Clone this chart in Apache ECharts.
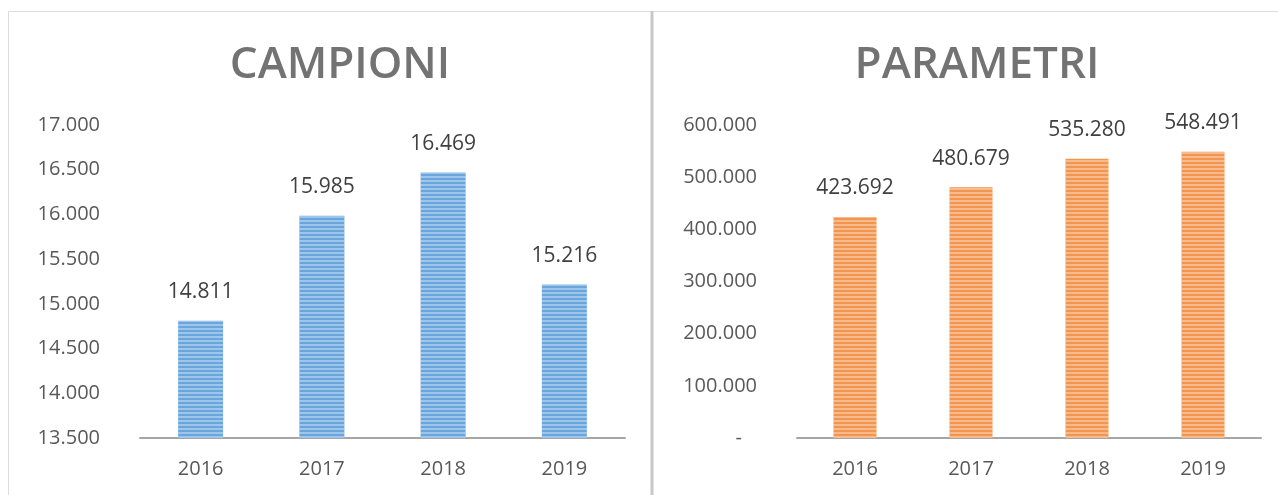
<!DOCTYPE html>
<html><head><meta charset="utf-8">
<script src="https://cdn.jsdelivr.net/npm/echarts@6/dist/echarts.min.js"></script>
<style>html,body{margin:0;padding:0;background:#fff}#c{width:1278px;height:495px}</style>
</head><body><div id="c"></div>
<script>
const years = ['2016','2017','2018','2019'];
const campioni = [14811, 15985, 16469, 15216];
const parametri = [423692, 480679, 535280, 548491];
const titles = ['CAMPIONI', 'PARAMETRI'];

function fmt(v){ if(v===0) return '{d|-}'; return String(v).replace(/\B(?=(\d{3})+(?!\d))/g,'.'); }
function fmtVal(v){ return String(v).replace(/\B(?=(\d{3})+(?!\d))/g,'.'); }
const font = "'Open Sans', 'Noto Sans', sans-serif";
const tickStyle = {color:'#595959', fontSize:20, fontFamily:font};

const chart = echarts.init(document.getElementById('c'));
const decal = {symbol:'rect', symbolSize:1, dashArrayX:[[1,0]], dashArrayY:[2,2], rotation:0, color:'rgba(255,255,255,0.35)'};
const titleStyle = {color:'#737373', fontSize:44, fontWeight:600, fontFamily:font};
chart.setOption({
  animation:false,
  title:[
    {text:titles[0], left:335, top:38, textAlign:'center', textStyle:titleStyle},
    {text:titles[1], left:972, top:38, textAlign:'center', textStyle:titleStyle}
  ],
  graphic:[
    {type:'rect', shape:{x:8.5,y:11.5,width:1300,height:500}, style:{fill:null, stroke:'#dcdcdc', lineWidth:1}},
    {type:'line', shape:{x1:652,y1:11,x2:652,y2:495}, style:{stroke:'#c8c8c8', lineWidth:3}}
  ],
  grid:[
    {left:140, width:485, top:125, bottom:57},
    {left:797, width:464, top:125, bottom:57}
  ],
  xAxis:[
    {type:'category', gridIndex:0, data:years, axisTick:{show:false}, axisLine:{lineStyle:{color:'#a6a6a6', width:2}}, axisLabel:Object.assign({margin:21}, tickStyle)},
    {type:'category', gridIndex:1, data:years, axisTick:{show:false}, axisLine:{lineStyle:{color:'#a6a6a6', width:2}}, axisLabel:Object.assign({margin:21}, tickStyle)}
  ],
  yAxis:[
    {type:'value', gridIndex:0, min:13500, max:17000, interval:500, splitLine:{show:false}, axisLine:{show:false}, axisTick:{show:false},
     axisLabel:Object.assign({formatter:fmt, margin:40}, tickStyle)},
    {type:'value', gridIndex:1, min:0, max:600000, interval:100000, splitLine:{show:false}, axisLine:{show:false}, axisTick:{show:false},
     axisLabel:Object.assign({formatter:fmt, margin:40, rich:{d:{color:'#595959', fontSize:20, fontFamily:font, padding:[0,15,0,0]}}}, tickStyle)}
  ],
  series:[
    {type:'bar', xAxisIndex:0, yAxisIndex:0, data:campioni, barWidth:45,
     itemStyle:{color:'#6aa6de', decal:decal},
     label:{show:true, position:'top', distance:18, formatter:p=>fmtVal(p.value), color:'#404040', fontSize:21, fontFamily:font}},
    {type:'bar', xAxisIndex:1, yAxisIndex:1, data:parametri, barWidth:43,
     itemStyle:{color:'#f2954e', decal:decal},
     label:{show:true, position:'top', distance:18, formatter:p=>fmtVal(p.value), color:'#404040', fontSize:21, fontFamily:font}}
  ]
});
</script></body></html>
